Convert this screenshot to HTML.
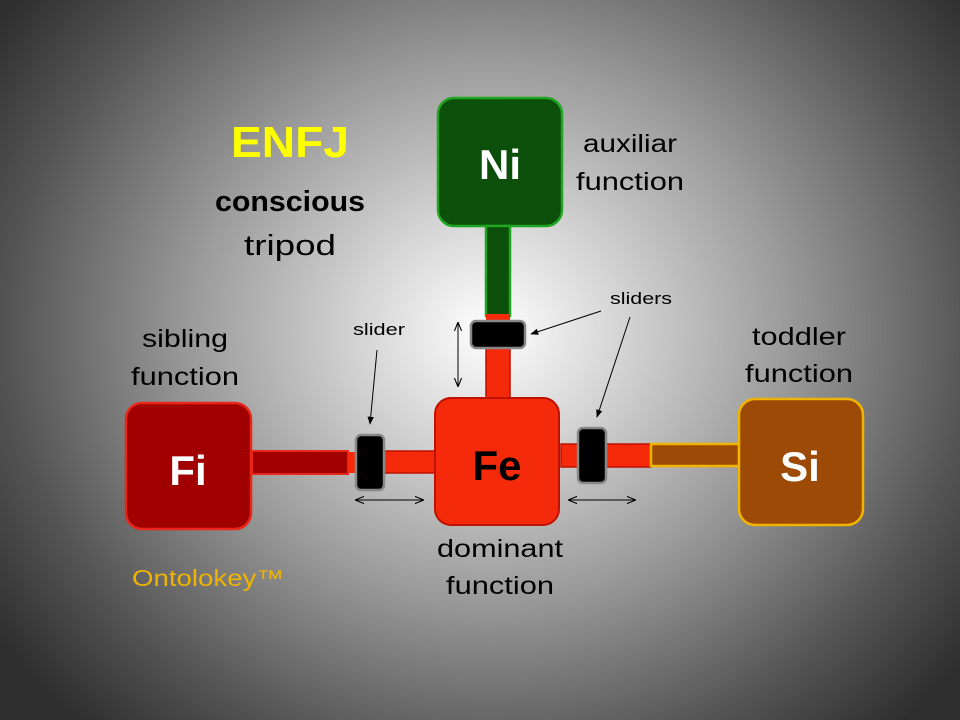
<!DOCTYPE html>
<html><head><meta charset="utf-8"><style>
html,body{margin:0;padding:0;width:960px;height:720px;overflow:hidden}
body{background:radial-gradient(ellipse 600px 540px at 490px 330px,#ffffff 0%,#d4d4d4 22%,#9a9a9a 50%,#555555 80%,#2e2e2e 100%)}
svg{position:absolute;left:0;top:0}
text{font-family:"Liberation Sans",sans-serif}
</style></head><body>
<svg width="960" height="720" viewBox="0 0 960 720">
<defs>
<marker id="ah" viewBox="0 0 10 10" refX="9" refY="5" markerWidth="8" markerHeight="8" orient="auto-start-reverse"><path d="M0,1 L10,5 L0,9 z" fill="#000"/></marker>
<marker id="oh" viewBox="0 0 10 10" refX="9" refY="5" markerWidth="9" markerHeight="9" orient="auto-start-reverse"><path d="M0,1 L10,5 L0,9" fill="none" stroke="#000" stroke-width="1.2"/></marker>
</defs>
<rect x="438" y="98" width="124" height="128" rx="16" fill="#0b4f0b" stroke="#1fa51f" stroke-width="2.5"/>
<rect x="486" y="226" width="24" height="90" fill="#0b4f0b" stroke="#1fa51f" stroke-width="2.5"/>
<rect x="486" y="314" width="24" height="8" fill="#f52a0a"/>
<text x="500" y="179" font-size="42" font-weight="bold" fill="#fff" text-anchor="middle">Ni</text>
<rect x="486" y="348" width="24" height="52" fill="#f52a0a" stroke="#c01000" stroke-width="1.5"/>
<rect x="471" y="321" width="54" height="27" rx="5" fill="#000" stroke="#888" stroke-width="2.5"/>
<rect x="252" y="451" width="96" height="23" fill="#a00000" stroke="#e8261a" stroke-width="2"/>
<rect x="348" y="452" width="8" height="21" fill="#f52a0a"/>
<rect x="126" y="403" width="125" height="126" rx="16" fill="#a00000" stroke="#e8261a" stroke-width="2.5"/>
<text x="188" y="485" font-size="42" font-weight="bold" fill="#fff" text-anchor="middle">Fi</text>
<rect x="384" y="451" width="52" height="22" fill="#f52a0a" stroke="#c01000" stroke-width="1.5"/>
<rect x="356" y="435" width="28" height="55" rx="5" fill="#000" stroke="#888" stroke-width="2.5"/>
<rect x="435" y="398" width="124" height="127" rx="16" fill="#f52a0a" stroke="#c01000" stroke-width="2"/>
<text x="497" y="480" font-size="42" font-weight="bold" fill="#000" text-anchor="middle">Fe</text>
<rect x="561" y="444" width="17" height="23" fill="#f52a0a" stroke="#c01000" stroke-width="1.5"/>
<rect x="606" y="444" width="45" height="23" fill="#f52a0a" stroke="#c01000" stroke-width="1.5"/>
<rect x="578" y="428" width="28" height="55" rx="5" fill="#000" stroke="#888" stroke-width="2.5"/>
<rect x="651" y="444" width="88" height="22" fill="#9c4a05" stroke="#f0b400" stroke-width="2.5"/>
<rect x="739" y="399" width="124" height="126" rx="16" fill="#9c4a05" stroke="#f0b400" stroke-width="2.5"/>
<text x="800" y="481" font-size="42" font-weight="bold" fill="#fff" text-anchor="middle">Si</text>
<line x1="458" y1="323" x2="458" y2="386" stroke="#000" stroke-width="1" marker-start="url(#oh)" marker-end="url(#oh)"/>
<line x1="356" y1="500" x2="423" y2="500" stroke="#000" stroke-width="1" marker-start="url(#oh)" marker-end="url(#oh)"/>
<line x1="569" y1="500" x2="635" y2="500" stroke="#000" stroke-width="1" marker-start="url(#oh)" marker-end="url(#oh)"/>
<line x1="377" y1="350" x2="370" y2="424" stroke="#000" stroke-width="1" marker-end="url(#ah)"/>
<line x1="601" y1="311" x2="531" y2="334" stroke="#000" stroke-width="1" marker-end="url(#ah)"/>
<line x1="630" y1="317" x2="597" y2="417" stroke="#000" stroke-width="1" marker-end="url(#ah)"/>
<text x="290" y="157" font-size="44" font-weight="bold" fill="#ffff00" text-anchor="middle" textLength="118" lengthAdjust="spacingAndGlyphs">ENFJ</text>
<text x="290" y="211" font-size="29" font-weight="bold" fill="#000" text-anchor="middle" textLength="150" lengthAdjust="spacingAndGlyphs">conscious</text>
<text x="290" y="255" font-size="29" fill="#000" text-anchor="middle" textLength="92" lengthAdjust="spacingAndGlyphs">tripod</text>
<text x="630" y="152" font-size="25" fill="#000" text-anchor="middle" textLength="94" lengthAdjust="spacingAndGlyphs">auxiliar</text>
<text x="630" y="190" font-size="25" fill="#000" text-anchor="middle" textLength="108" lengthAdjust="spacingAndGlyphs">function</text>
<text x="185" y="347" font-size="25" fill="#000" text-anchor="middle" textLength="86" lengthAdjust="spacingAndGlyphs">sibling</text>
<text x="185" y="385" font-size="25" fill="#000" text-anchor="middle" textLength="108" lengthAdjust="spacingAndGlyphs">function</text>
<text x="799" y="345" font-size="25" fill="#000" text-anchor="middle" textLength="94" lengthAdjust="spacingAndGlyphs">toddler</text>
<text x="799" y="382" font-size="25" fill="#000" text-anchor="middle" textLength="108" lengthAdjust="spacingAndGlyphs">function</text>
<text x="500" y="557" font-size="25" fill="#000" text-anchor="middle" textLength="126" lengthAdjust="spacingAndGlyphs">dominant</text>
<text x="500" y="594" font-size="25" fill="#000" text-anchor="middle" textLength="108" lengthAdjust="spacingAndGlyphs">function</text>
<text x="132" y="586" font-size="23" fill="#f0b400" textLength="152" lengthAdjust="spacingAndGlyphs">Ontolokey™</text>
<text x="379" y="335" font-size="17" fill="#000" text-anchor="middle" textLength="52" lengthAdjust="spacingAndGlyphs">slider</text>
<text x="641" y="304" font-size="17" fill="#000" text-anchor="middle" textLength="62" lengthAdjust="spacingAndGlyphs">sliders</text>
</svg>
</body></html>
